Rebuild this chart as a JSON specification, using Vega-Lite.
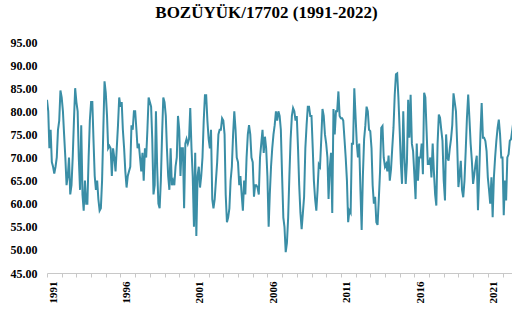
{
  "$schema": "https://vega.github.io/schema/vega-lite/v6.json",
  "autosize": "none",
  "width": 465,
  "height": 231,
  "padding": {"left": 47, "top": 42, "right": 0, "bottom": 43},
  "background": "white",
  "title": {"text": "BOZÜYÜK/17702 (1991-2022)", "font": "Liberation Serif", "fontSize": 17, "fontWeight": "bold", "color": "#000000", "anchor": "middle", "dx": -13, "offset": 14},
  "config": {"view": {"stroke": null}},
  "data": {"values": [
{"d":"1991-01","v":82.5},{"d":"1991-02","v":80},{"d":"1991-03","v":72},{"d":"1991-04","v":76},{"d":"1991-05","v":69},{"d":"1991-06","v":68},{"d":"1991-07","v":66.5},{"d":"1991-08","v":68},{"d":"1991-09","v":70},{"d":"1991-10","v":76},{"d":"1991-11","v":78},{"d":"1991-12","v":84.5},
{"d":"1992-01","v":83},{"d":"1992-02","v":80},{"d":"1992-03","v":75},{"d":"1992-04","v":70},{"d":"1992-05","v":64},{"d":"1992-06","v":66},{"d":"1992-07","v":70},{"d":"1992-08","v":62},{"d":"1992-09","v":64},{"d":"1992-10","v":70},{"d":"1992-11","v":78},{"d":"1992-12","v":85},
{"d":"1993-01","v":82},{"d":"1993-02","v":80},{"d":"1993-03","v":70},{"d":"1993-04","v":63},{"d":"1993-05","v":77},{"d":"1993-06","v":62},{"d":"1993-07","v":58.5},{"d":"1993-08","v":65},{"d":"1993-09","v":60},{"d":"1993-10","v":60},{"d":"1993-11","v":70},{"d":"1993-12","v":78},
{"d":"1994-01","v":82},{"d":"1994-02","v":82},{"d":"1994-03","v":74},{"d":"1994-04","v":66},{"d":"1994-05","v":63},{"d":"1994-06","v":65},{"d":"1994-07","v":61},{"d":"1994-08","v":58.5},{"d":"1994-09","v":59},{"d":"1994-10","v":65},{"d":"1994-11","v":76},{"d":"1994-12","v":86.5},
{"d":"1995-01","v":84},{"d":"1995-02","v":79},{"d":"1995-03","v":72},{"d":"1995-04","v":72.5},{"d":"1995-05","v":72},{"d":"1995-06","v":66},{"d":"1995-07","v":72},{"d":"1995-08","v":70},{"d":"1995-09","v":67},{"d":"1995-10","v":72},{"d":"1995-11","v":77},{"d":"1995-12","v":83},
{"d":"1996-01","v":81},{"d":"1996-02","v":82},{"d":"1996-03","v":76},{"d":"1996-04","v":72},{"d":"1996-05","v":67},{"d":"1996-06","v":63.5},{"d":"1996-07","v":66},{"d":"1996-08","v":67},{"d":"1996-09","v":68},{"d":"1996-10","v":77},{"d":"1996-11","v":76},{"d":"1996-12","v":80},
{"d":"1997-01","v":80},{"d":"1997-02","v":76},{"d":"1997-03","v":72},{"d":"1997-04","v":73},{"d":"1997-05","v":70},{"d":"1997-06","v":67},{"d":"1997-07","v":71},{"d":"1997-08","v":65},{"d":"1997-09","v":72},{"d":"1997-10","v":70},{"d":"1997-11","v":76},{"d":"1997-12","v":83},
{"d":"1998-01","v":82},{"d":"1998-02","v":81},{"d":"1998-03","v":74},{"d":"1998-04","v":62},{"d":"1998-05","v":64},{"d":"1998-06","v":80},{"d":"1998-07","v":68},{"d":"1998-08","v":60},{"d":"1998-09","v":59},{"d":"1998-10","v":65},{"d":"1998-11","v":75},{"d":"1998-12","v":83},
{"d":"1999-01","v":82},{"d":"1999-02","v":79},{"d":"1999-03","v":72},{"d":"1999-04","v":66},{"d":"1999-05","v":63},{"d":"1999-06","v":72},{"d":"1999-07","v":64},{"d":"1999-08","v":65},{"d":"1999-09","v":64},{"d":"1999-10","v":68},{"d":"1999-11","v":70},{"d":"1999-12","v":79},
{"d":"2000-01","v":76},{"d":"2000-02","v":66},{"d":"2000-03","v":72},{"d":"2000-04","v":72},{"d":"2000-05","v":59},{"d":"2000-06","v":73},{"d":"2000-07","v":74},{"d":"2000-08","v":73},{"d":"2000-09","v":74},{"d":"2000-10","v":80.7},{"d":"2000-11","v":72},{"d":"2000-12","v":66},
{"d":"2001-01","v":55},{"d":"2001-02","v":71},{"d":"2001-03","v":53},{"d":"2001-04","v":66},{"d":"2001-05","v":68},{"d":"2001-06","v":63.5},{"d":"2001-07","v":66},{"d":"2001-08","v":70},{"d":"2001-09","v":78},{"d":"2001-10","v":83.5},{"d":"2001-11","v":83.5},{"d":"2001-12","v":78},
{"d":"2002-01","v":74},{"d":"2002-02","v":72},{"d":"2002-03","v":76},{"d":"2002-04","v":61},{"d":"2002-05","v":59},{"d":"2002-06","v":61},{"d":"2002-07","v":65},{"d":"2002-08","v":69},{"d":"2002-09","v":75},{"d":"2002-10","v":76},{"d":"2002-11","v":76},{"d":"2002-12","v":78.5},
{"d":"2003-01","v":78},{"d":"2003-02","v":75},{"d":"2003-03","v":62},{"d":"2003-04","v":56},{"d":"2003-05","v":57},{"d":"2003-06","v":59},{"d":"2003-07","v":65},{"d":"2003-08","v":68},{"d":"2003-09","v":75},{"d":"2003-10","v":80},{"d":"2003-11","v":76},{"d":"2003-12","v":70},
{"d":"2004-01","v":69},{"d":"2004-02","v":64},{"d":"2004-03","v":66},{"d":"2004-04","v":62},{"d":"2004-05","v":58.5},{"d":"2004-06","v":65},{"d":"2004-07","v":62},{"d":"2004-08","v":70},{"d":"2004-09","v":75},{"d":"2004-10","v":77},{"d":"2004-11","v":75},{"d":"2004-12","v":70},
{"d":"2005-01","v":69},{"d":"2005-02","v":61.5},{"d":"2005-03","v":64},{"d":"2005-04","v":64},{"d":"2005-05","v":63.5},{"d":"2005-06","v":62},{"d":"2005-07","v":70},{"d":"2005-08","v":73},{"d":"2005-09","v":76},{"d":"2005-10","v":71},{"d":"2005-11","v":74.5},{"d":"2005-12","v":72},
{"d":"2006-01","v":66},{"d":"2006-02","v":55},{"d":"2006-03","v":62},{"d":"2006-04","v":68},{"d":"2006-05","v":72},{"d":"2006-06","v":75},{"d":"2006-07","v":77},{"d":"2006-08","v":80},{"d":"2006-09","v":78},{"d":"2006-10","v":80},{"d":"2006-11","v":79},{"d":"2006-12","v":76},
{"d":"2007-01","v":66},{"d":"2007-02","v":57},{"d":"2007-03","v":55},{"d":"2007-04","v":49.5},{"d":"2007-05","v":51.5},{"d":"2007-06","v":57},{"d":"2007-07","v":66},{"d":"2007-08","v":74},{"d":"2007-09","v":79},{"d":"2007-10","v":80.7},{"d":"2007-11","v":80},{"d":"2007-12","v":78},
{"d":"2008-01","v":79},{"d":"2008-02","v":72},{"d":"2008-03","v":64},{"d":"2008-04","v":58},{"d":"2008-05","v":54.5},{"d":"2008-06","v":58},{"d":"2008-07","v":61.5},{"d":"2008-08","v":72},{"d":"2008-09","v":77},{"d":"2008-10","v":81},{"d":"2008-11","v":81},{"d":"2008-12","v":79},
{"d":"2009-01","v":79},{"d":"2009-02","v":72},{"d":"2009-03","v":65},{"d":"2009-04","v":61},{"d":"2009-05","v":58.5},{"d":"2009-06","v":63},{"d":"2009-07","v":68.5},{"d":"2009-08","v":68},{"d":"2009-09","v":74},{"d":"2009-10","v":80.5},{"d":"2009-11","v":79},{"d":"2009-12","v":75},
{"d":"2010-01","v":73},{"d":"2010-02","v":70},{"d":"2010-03","v":61},{"d":"2010-04","v":68},{"d":"2010-05","v":71},{"d":"2010-06","v":58},{"d":"2010-07","v":80.5},{"d":"2010-08","v":75},{"d":"2010-09","v":80},{"d":"2010-10","v":80},{"d":"2010-11","v":84.3},{"d":"2010-12","v":79},
{"d":"2011-01","v":78.5},{"d":"2011-02","v":78.5},{"d":"2011-03","v":78},{"d":"2011-04","v":74},{"d":"2011-05","v":70},{"d":"2011-06","v":65},{"d":"2011-07","v":56},{"d":"2011-08","v":58.5},{"d":"2011-09","v":58},{"d":"2011-10","v":73},{"d":"2011-11","v":73},{"d":"2011-12","v":85},
{"d":"2012-01","v":79},{"d":"2012-02","v":73},{"d":"2012-03","v":70},{"d":"2012-04","v":73},{"d":"2012-05","v":63},{"d":"2012-06","v":54.3},{"d":"2012-07","v":66},{"d":"2012-08","v":74},{"d":"2012-09","v":77},{"d":"2012-10","v":81},{"d":"2012-11","v":80},{"d":"2012-12","v":76},
{"d":"2013-01","v":75.7},{"d":"2013-02","v":72},{"d":"2013-03","v":64},{"d":"2013-04","v":60},{"d":"2013-05","v":61.5},{"d":"2013-06","v":56},{"d":"2013-07","v":55.4},{"d":"2013-08","v":61},{"d":"2013-09","v":67},{"d":"2013-10","v":76.4},{"d":"2013-11","v":76.8},{"d":"2013-12","v":70},
{"d":"2014-01","v":68},{"d":"2014-02","v":68.6},{"d":"2014-03","v":67},{"d":"2014-04","v":70.4},{"d":"2014-05","v":65},{"d":"2014-06","v":67.5},{"d":"2014-07","v":72},{"d":"2014-08","v":76.4},{"d":"2014-09","v":83.6},{"d":"2014-10","v":88},{"d":"2014-11","v":88.2},{"d":"2014-12","v":83},
{"d":"2015-01","v":76},{"d":"2015-02","v":68.6},{"d":"2015-03","v":64.3},{"d":"2015-04","v":80},{"d":"2015-05","v":70},{"d":"2015-06","v":64.3},{"d":"2015-07","v":69},{"d":"2015-08","v":82.5},{"d":"2015-09","v":74.3},{"d":"2015-10","v":83.6},{"d":"2015-11","v":73},{"d":"2015-12","v":71.4},
{"d":"2016-01","v":66.4},{"d":"2016-02","v":61},{"d":"2016-03","v":73},{"d":"2016-04","v":65},{"d":"2016-05","v":70},{"d":"2016-06","v":70},{"d":"2016-07","v":73},{"d":"2016-08","v":66.4},{"d":"2016-09","v":84},{"d":"2016-10","v":83},{"d":"2016-11","v":75.7},{"d":"2016-12","v":68.6},
{"d":"2017-01","v":68.6},{"d":"2017-02","v":70},{"d":"2017-03","v":65.7},{"d":"2017-04","v":73},{"d":"2017-05","v":67},{"d":"2017-06","v":62},{"d":"2017-07","v":59.6},{"d":"2017-08","v":73},{"d":"2017-09","v":79.3},{"d":"2017-10","v":78.6},{"d":"2017-11","v":76},{"d":"2017-12","v":73.6},
{"d":"2018-01","v":65},{"d":"2018-02","v":60.7},{"d":"2018-03","v":75},{"d":"2018-04","v":70},{"d":"2018-05","v":69.3},{"d":"2018-06","v":72},{"d":"2018-07","v":74},{"d":"2018-08","v":77},{"d":"2018-09","v":83.9},{"d":"2018-10","v":82},{"d":"2018-11","v":80},{"d":"2018-12","v":72.9},
{"d":"2019-01","v":63.6},{"d":"2019-02","v":66.4},{"d":"2019-03","v":69.3},{"d":"2019-04","v":63},{"d":"2019-05","v":61.4},{"d":"2019-06","v":65},{"d":"2019-07","v":71.4},{"d":"2019-08","v":78.6},{"d":"2019-09","v":83.6},{"d":"2019-10","v":78.6},{"d":"2019-11","v":73},{"d":"2019-12","v":69.3},
{"d":"2020-01","v":64.3},{"d":"2020-02","v":66.4},{"d":"2020-03","v":68.6},{"d":"2020-04","v":70.4},{"d":"2020-05","v":58.6},{"d":"2020-06","v":66.4},{"d":"2020-07","v":75},{"d":"2020-08","v":81.8},{"d":"2020-09","v":74.3},{"d":"2020-10","v":74.3},{"d":"2020-11","v":73.6},{"d":"2020-12","v":71.4},
{"d":"2021-01","v":65.7},{"d":"2021-02","v":62.9},{"d":"2021-03","v":60},{"d":"2021-04","v":65.7},{"d":"2021-05","v":57.1},{"d":"2021-06","v":65.7},{"d":"2021-07","v":70},{"d":"2021-08","v":73.6},{"d":"2021-09","v":76.4},{"d":"2021-10","v":78.2},{"d":"2021-11","v":75},{"d":"2021-12","v":70},
{"d":"2022-01","v":70},{"d":"2022-02","v":57.5},{"d":"2022-03","v":65},{"d":"2022-04","v":60.7},{"d":"2022-05","v":70},{"d":"2022-06","v":70.7},{"d":"2022-07","v":73.6},{"d":"2022-08","v":74},{"d":"2022-09","v":76},{"d":"2022-10","v":78},{"d":"2022-11","v":76},{"d":"2022-12","v":80}
  ]},
  "mark": {"type": "line", "color": "#3a8ea6", "strokeWidth": 2, "clip": true},
  "encoding": {
    "x": {
      "field": "d", "type": "temporal",
      "scale": {"domain": [{"year": 1991, "month": 1, "date": 1}, {"year": 2022, "month": 8, "date": 25}], "nice": false},
      "axis": {
        "title": null, "grid": false,
        "values": [{"year":1991},{"year":1992},{"year":1993},{"year":1994},{"year":1995},{"year":1996},{"year":1997},{"year":1998},{"year":1999},{"year":2000},{"year":2001},{"year":2002},{"year":2003},{"year":2004},{"year":2005},{"year":2006},{"year":2007},{"year":2008},{"year":2009},{"year":2010},{"year":2011},{"year":2012},{"year":2013},{"year":2014},{"year":2015},{"year":2016},{"year":2017},{"year":2018},{"year":2019},{"year":2020},{"year":2021},{"year":2022}],
        "labelExpr": "(year(datum.value) - 1991) % 5 == 0 ? timeFormat(datum.value, '%Y') : ''",
        "labelAngle": -90, "labelOffset": 6, "labelPadding": 4,
        "labelFont": "Liberation Serif", "labelFontSize": 11, "labelFontWeight": "bold", "labelColor": "#000000",
        "labelOverlap": false, "labelFlush": false,
        "domainColor": "#c8c8c8", "tickColor": "#c8c8c8", "tickSize": 4
      }
    },
    "y": {
      "field": "v", "type": "quantitative",
      "scale": {"domain": [45, 95], "nice": false, "zero": false},
      "axis": {
        "title": null, "grid": false, "domain": false, "ticks": false,
        "values": [45, 50, 55, 60, 65, 70, 75, 80, 85, 90, 95],
        "format": ".2f", "labelPadding": 10,
        "labelFont": "Liberation Serif", "labelFontSize": 12, "labelFontWeight": "bold", "labelColor": "#000000"
      }
    }
  }
}
